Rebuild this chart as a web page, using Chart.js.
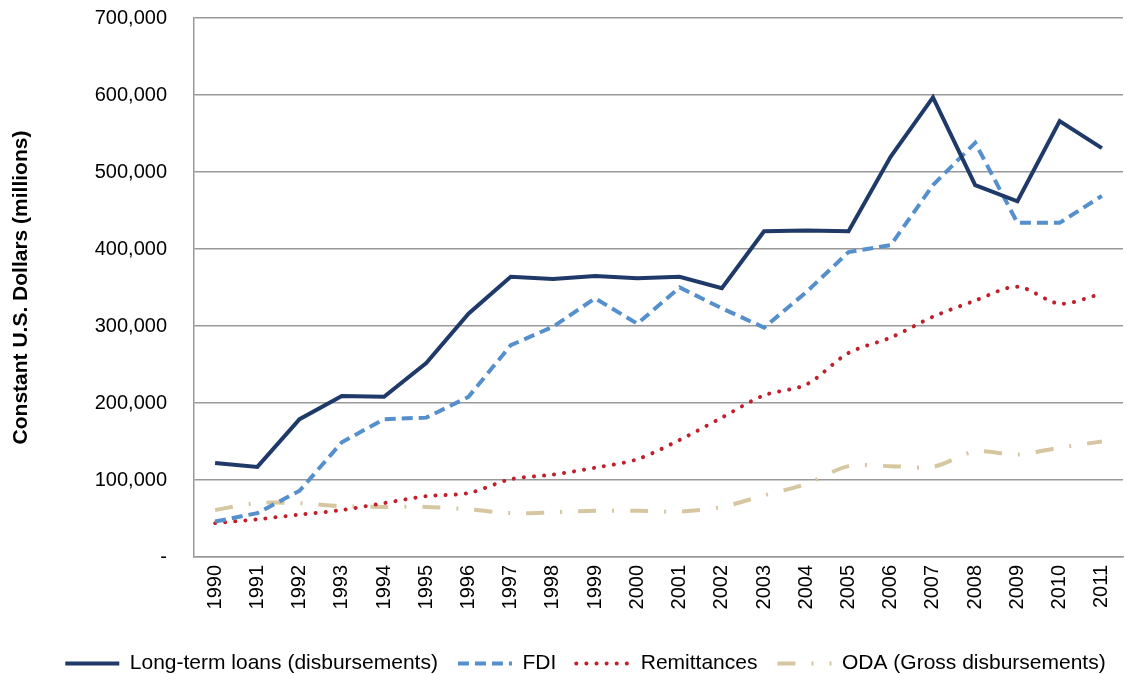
<!DOCTYPE html>
<html>
<head>
<meta charset="utf-8">
<script src="https://cdn.jsdelivr.net/npm/chart.js@4"></script>
<style>
  html, body { margin: 0; padding: 0; background: #fff; }
  #wrap { width: 1126px; height: 674px; }
</style>
</head>
<body>
<div id="wrap"><canvas id="grafico" width="1126" height="674"></canvas></div>
<script>
const years = ["1990","1991","1992","1993","1994","1995","1996","1997","1998","1999","2000",
  "2001","2002","2003","2004","2005","2006","2007","2008","2009","2010","2011"];

// millions of constant US dollars
const loans = [122000,117000,179000,209000,208000,252000,316000,364000,361000,365000,362000,
  364000,349000,423000,424000,423000,520000,597000,483000,462000,566000,531000];
const fdi = [46000,57000,86000,149000,179000,181000,208000,275000,299000,336000,303000,
  350000,323000,298000,344000,396000,405000,483000,538000,434000,434000,469000];
const remittances = [44000,49000,55000,61000,70000,79000,83000,101000,107000,116000,127000,
  152000,181000,210000,224000,265000,285000,312000,333000,351000,329000,342000];
const oda = [61000,70000,70000,66000,65000,65000,62000,57000,58000,60000,60000,
  59000,65000,80000,95000,118000,118000,117000,137000,133000,142000,150000];

const font = "'Liberation Sans', Arial, sans-serif";

// the legend in the reference sits a little right of centre and low
const shiftLegend = {
  id: "shiftLegend",
  afterLayout(chart) {
    const lg = chart.legend;
    lg.left += 24;
    lg.right += 24;
    lg.top += 10;
    lg.bottom += 10;
  }
};

new Chart(document.getElementById("grafico"), {
  type: "line",
  data: {
    labels: years,
    datasets: [
      {
        label: "Long-term loans (disbursements)",
        data: loans,
        borderColor: "#1f3a68",
        borderWidth: 4,
        pointRadius: 0,
        pointStyle: "line",
        tension: 0
      },
      {
        label: "FDI",
        data: fdi,
        borderColor: "#5590cc",
        borderWidth: 4,
        borderDash: [11, 6],
        pointRadius: 0,
        pointStyle: "line",
        tension: 0
      },
      {
        label: "Remittances",
        data: remittances,
        borderColor: "#c0202b",
        borderWidth: 4,
        borderDash: [0.1, 10],
        borderCapStyle: "round",
        pointRadius: 0,
        pointStyle: "line",
        tension: 0.3
      },
      {
        label: "ODA (Gross disbursements)",
        data: oda,
        borderColor: "#d7c7a1",
        borderWidth: 4,
        borderDash: [18, 16, 2, 16],
        pointRadius: 0,
        pointStyle: "line",
        tension: 0.3
      }
    ]
  },
  options: {
    responsive: false,
    animation: false,
    layout: { padding: { top: 18, right: 3, left: 0, bottom: 0 } },
    plugins: {
      legend: {
        position: "bottom",
        labels: {
          usePointStyle: true,
          pointStyleWidth: 54,
          boxHeight: 4,
          padding: 20,
          color: "#000",
          font: { family: font, size: 21 },
          generateLabels: chart => Chart.defaults.plugins.legend.labels.generateLabels(chart).map((item, i) => {
            const ds = chart.data.datasets[i];
            item.lineDash = ds.borderDash || [];
            item.lineCap = ds.borderCapStyle || "butt";
            item.lineWidth = 4;
            return item;
          })
        }
      },
      tooltip: { enabled: false }
    },
    scales: {
      x: {
        offset: true,
        grid: { display: false },
        border: { color: "#999", width: 1.5 },
        ticks: {
          color: "#000",
          maxRotation: 90,
          minRotation: 90,
          autoSkip: false,
          padding: 0,
          font: { family: font, size: 20 }
        },
        afterFit: scale => { scale.height = 66; }
      },
      y: {
        min: 0,
        max: 700000,
        grid: { color: "#999", lineWidth: 1.5, drawTicks: true, tickLength: 27, tickColor: "rgba(0,0,0,0)" },
        border: { color: "#999", width: 1.5 },
        ticks: {
          stepSize: 100000,
          color: "#000",
          padding: 0,
          font: { family: font, size: 20 },
          callback: v => v === 0 ? "-" : v.toLocaleString("en-US")
        },
        title: {
          display: true,
          text: "Constant U.S. Dollars (millions)",
          color: "#000",
          font: { family: font, size: 21, weight: "bold" },
          padding: { top: 9, bottom: 0 }
        },
        afterFit: scale => { scale.width = 194; }
      }
    }
  },
  plugins: [shiftLegend]
});
</script>
</body>
</html>
